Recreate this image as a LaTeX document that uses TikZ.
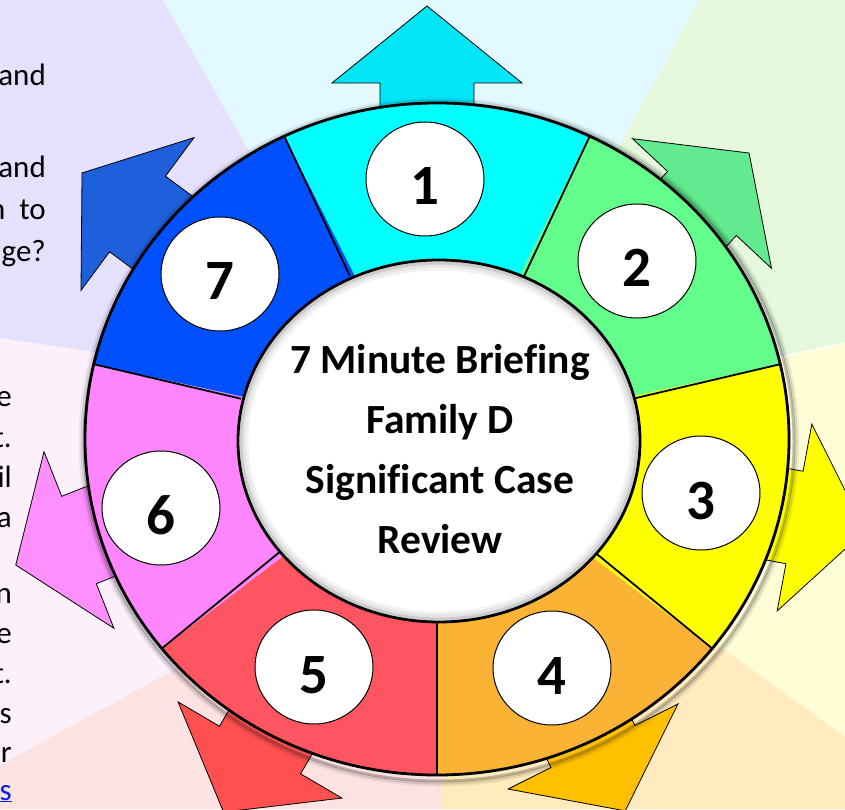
\documentclass[tikz,border=0pt]{standalone}
\usepackage{xcolor}
\usepackage{fontspec}
\setmainfont{Carlito}[Ligatures=CommonOff]
\usepackage{tikz}
\usetikzlibrary{shapes.geometric}

\definecolor{bglav}{RGB}{229,224,252}
\definecolor{bgcyan}{RGB}{226,250,255}
\definecolor{bggreen}{RGB}{229,248,220}
\definecolor{bgyellow}{RGB}{255,253,214}
\definecolor{bgorange}{RGB}{255,235,190}
\definecolor{bgred}{RGB}{253,226,226}
\definecolor{bgpink}{RGB}{252,241,251}
\definecolor{segcyan}{RGB}{0,255,255}
\definecolor{seggreen}{RGB}{98,253,138}
\definecolor{segyellow}{RGB}{255,255,0}
\definecolor{segorange}{RGB}{251,179,53}
\definecolor{segred}{RGB}{255,85,97}
\definecolor{segpink}{RGB}{255,134,255}
\definecolor{segblue}{RGB}{0,80,255}
\definecolor{arrcyan}{RGB}{0,230,246}
\definecolor{arrgreen}{RGB}{98,234,142}
\definecolor{arryellow}{RGB}{255,255,0}
\definecolor{arrorange}{RGB}{255,192,0}
\definecolor{arrred}{RGB}{255,80,80}
\definecolor{arrpink}{RGB}{255,143,255}
\definecolor{arrblue}{RGB}{30,95,220}
\definecolor{linkblue}{RGB}{5,30,235}

\begin{document}
\begin{tikzpicture}[x=1pt, y=1pt,
		numcirc/.style={ellipse, draw=black, line width=1pt, fill=white,
			minimum width=118pt, minimum height=114pt, inner sep=0pt,
			text height=52pt, text depth=0pt, font=\fontsize{57}{57}\selectfont\bfseries},
		sidetext/.style={anchor=base east, inner sep=0pt, font=\fontsize{31}{40}\selectfont},
		arrowshape/.style={draw=black, line width=0.8pt, line join=miter}]
	
	\useasboundingbox (0,0) rectangle (845,809);
	\clip (0,0) rectangle (845,809);
	
	% Background wedges
	\fill[bglav] (437,369) -- (230,436) -- (0,471) -- (0,809) -- (163,809) -- (289,588) -- cycle;
	\fill[bgcyan] (437,369) -- (289,588) -- (163,809) -- (700,809) -- (576,584) -- cycle;
	\fill[bggreen] (437,369) -- (576,584) -- (700,809) -- (845,809) -- (845,466) -- (700,434) -- cycle;
	\fill[bgyellow] (437,369) -- (700,434) -- (845,466) -- (845,72) -- (650,213) -- cycle;
	\fill[bgorange] (437,369) -- (650,213) -- (845,72) -- (845,0) -- (442,0) -- (442,150) -- cycle;
	\fill[bgred] (437,369) -- (442,150) -- (442,0) -- (0,0) -- (0,44) -- (260,187) -- cycle;
	\fill[bgpink] (437,369) -- (260,187) -- (0,44) -- (0,471) -- (230,436) -- cycle;
	\draw[white, line width=1.5pt] (700,434) -- (845,466);
	
	% Side text, cut off at the left edge
	\node[sidetext] (ta) at (46,723) {and};
	\node[sidetext] (tb) at (46,631) {and};
	\node[sidetext] (tc) at (46,589) {n\hspace{14pt}to};
	\node[sidetext] (td) at (46,547) {ge?};
	\node[sidetext] (te) at (12,402) {e};
	\node[sidetext] (tf) at (12,361) {t.};
	\node[sidetext] (tg) at (12,321) {il};
	\node[sidetext] (th) at (12,282) {a};
	\node[sidetext] (ti) at (12,206) {n};
	\node[sidetext] (tj) at (12,166) {e};
	\node[sidetext] (tk) at (12,126) {t.};
	\node[sidetext] (tl) at (12,86) {s};
	\node[sidetext] (tm) at (12,47) {r};
	\node[sidetext, text=linkblue] (tn) at (12,9) {\underline{s}};
	
	% Arrows
	\foreach \mx/\my/\ang/\hl/\col in {427/726/90/77/arrcyan, 702/605.5/47/69/arrgreen,
		794.5/291.5/-10.5/72/arryellow, 593/62.5/-63.4/72/arrorange, 260/59/-120.4/72/arrred,
		79/269/201.6/68/arrpink, 137.5/595/143.5/69/arrblue} {
		\begin{scope}[shift={(\mx,\my)}, rotate=\ang]
			\path[fill=\col, arrowshape] (-130,-47) -- (0,-47) -- (0,-95) -- (\hl,0) -- (0,95) -- (0,47) -- (-130,47) -- cycle;
		\end{scope}
	}
	
	% Ring
	\begin{scope}[shift={(437,370)}]
		\foreach \d/\o in {7/0.06, 5/0.12, 3/0.25} {
			\draw[black, opacity=\o, line width=3pt] (2,-3) ellipse[x radius={352+\d}, y radius={336+\d}];
		}
		\foreach \a/\col in {64.29/segcyan, 12.86/seggreen, -38.57/segyellow, -90/segorange,
			-141.43/segred, 167.14/segpink, 115.71/segblue} {
			\fill[\col] (0,0) -- ({352*cos(\a)},{336*sin(\a)})
				arc[start angle=\a, delta angle=51.43, x radius=352, y radius=336] -- cycle;
		}
		\foreach \a in {64.29, 12.86, -38.57, -90, -141.43, 167.14, 115.71} {
			\draw[line width=1.8pt] ({201*cos(\a)},{181*sin(\a)}) -- ({352*cos(\a)},{336*sin(\a)});
		}
		\draw[line width=2.8pt] (0,0) ellipse[x radius=352, y radius=336];
		
		% Centre
		\fill[white] (2,-2) ellipse[x radius=201, y radius=181];
		\foreach \d/\o in {9/0.05, 6/0.1, 3/0.2} {
			\draw[black, opacity=\o, line width=3pt] (2,-2) ellipse[x radius={201-\d}, y radius={181-\d}];
		}
		\draw[line width=2.8pt] (2,-2) ellipse[x radius=201, y radius=181];
	\end{scope}
	
	\node[align=center, font=\fontsize{41.5}{60}\selectfont\bfseries] (title) at (440,360)
		{7 Minute Briefing\\Family D\\Significant Case\\Review};
	
	% Step numbers
	\node[numcirc] (n1) at (425,630) {1};
	\node[numcirc] (n2) at (637,548) {2};
	\node[numcirc] (n3) at (701,316) {3};
	\node[numcirc] (n4) at (552,141) {4};
	\node[numcirc] (n5) at (314,142) {5};
	\node[numcirc] (n6) at (161,301) {6};
	\node[numcirc] (n7) at (220,535) {7};
	
\end{tikzpicture}
\end{document}
